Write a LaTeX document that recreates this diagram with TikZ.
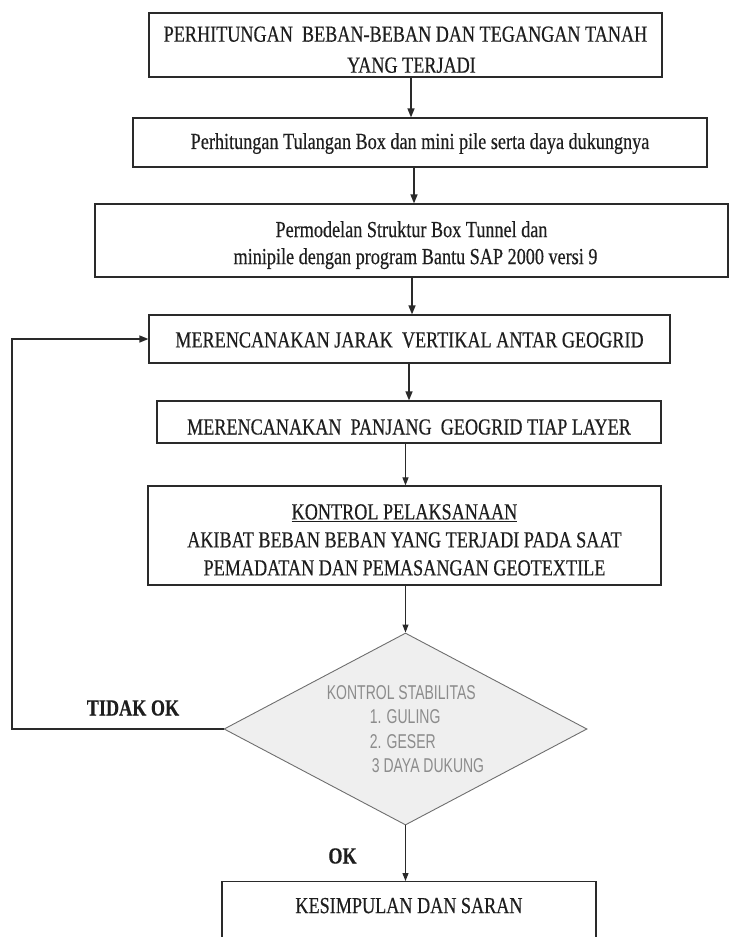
\documentclass[tikz,border=0pt]{standalone}
\usepackage{fontspec}
\setmainfont[FakeStretch=0.79,FakeBold=0.4]{Liberation Serif}
\newfontfamily\narrowsans[FakeStretch=0.70]{Liberation Sans}
\usetikzlibrary{arrows.meta,shapes.geometric}
\definecolor{ink}{HTML}{1E1E1E}
\definecolor{frame}{HTML}{2A2A2A}
\definecolor{greytxt}{HTML}{8C8C8C}
\definecolor{diafill}{HTML}{EFEFEF}
\definecolor{diaedge}{HTML}{6E6E6E}
\newcommand{\txtdown}[2]{\raisebox{-#1}[\height][\depth]{#2}}
\begin{document}
\begin{tikzpicture}[x=1pt,y=-1pt,
  box/.style={draw=frame, line width=1.2pt, rectangle, inner sep=0pt, text=ink,
    align=center, font=\fontsize{23}{27}\selectfont},
  arr/.style={draw=frame, line width=1.4pt, line join=miter, -{Triangle[length=9pt,width=7pt]}},
  thinarr/.style={draw=frame, line width=1.1pt, -{Triangle[length=8pt,width=6pt]}},
  lbl/.style={text=ink, inner sep=0pt, font=\bfseries\fontsize{23}{27}\selectfont}
]
\useasboundingbox (0,0) rectangle (729,937);
\clip (0,0) rectangle (729,937);

% boxes
\node[box, minimum width=513pt, minimum height=64pt, font=\fontsize{23}{31}\selectfont] (b1) at (405.5,45)
  {\txtdown{6pt}{\begin{tabular}{@{}c@{}}PERHITUNGAN\ \ BEBAN-BEBAN DAN TEGANGAN TANAH\\\hspace*{12pt}YANG TERJADI\end{tabular}}};
\node[box, minimum width=574pt, minimum height=49pt] (b2) at (420,142.5)
  {\txtdown{1pt}{Perhitungan Tulangan Box dan mini pile serta daya dukungnya}};
\node[box, minimum width=633pt, minimum height=73pt, font=\fontsize{23}{27}\selectfont] (b3) at (411.5,240.5)
  {\txtdown{4.7pt}{\begin{tabular}{@{}c@{}}Permodelan Struktur Box Tunnel dan\\\hspace*{8pt}minipile dengan program Bantu SAP 2000 versi 9\end{tabular}}};
\node[box, minimum width=521pt, minimum height=48pt] (b4) at (409.5,339)
  {\txtdown{1pt}{MERENCANAKAN JARAK\ \ VERTIKAL ANTAR GEOGRID}};
\node[box, minimum width=504pt, minimum height=42pt] (b5) at (409,422)
  {\txtdown{5pt}{MERENCANAKAN\ \ PANJANG\ \ GEOGRID TIAP LAYER}};
\node[box, minimum width=513pt, minimum height=99pt, font=\fontsize{23}{28}\selectfont] (b6) at (404.5,535.5)
  {\txtdown{6.3pt}{\begin{tabular}{@{}c@{}}\underline{KONTROL PELAKSANAAN}\\AKIBAT BEBAN BEBAN YANG TERJADI PADA SAAT\\PEMADATAN DAN PEMASANGAN GEOTEXTILE\end{tabular}}};

% decision
\node[diamond, shape aspect=1.89, draw=diaedge, fill=diafill, line width=0.9pt, minimum width=363pt, minimum height=192pt,
  inner sep=0pt, text=greytxt, font=\narrowsans\fontsize{20}{24.5}\selectfont] (dia) at (405.5,729)
  {\txtdown{2pt}{\begin{tabular}{@{}l@{}}KONTROL STABILITAS\\\hspace*{43pt}1. GULING\\\hspace*{43pt}2. GESER\\\hspace*{45pt}3 DAYA DUKUNG\end{tabular}}};

% last box (cut by the page bottom)
\node[box, anchor=north, minimum width=374pt, minimum height=120pt] (b7) at (409,881)
  {\raisebox{36pt}[\height][\depth]{KESIMPULAN DAN SARAN}};

% labels
\node[lbl] (tidak) at (133,708) {TIDAK OK};
\node[lbl] (ok) at (342.5,856) {OK};

% connector columns
\coordinate (c1) at (411,0);
\coordinate (c2) at (414,0);
\coordinate (c3) at (412,0);
\coordinate (c4) at (409,0);
\coordinate (c5) at (405.5,0);
\coordinate (fbx) at (12,0);

\draw[arr] (b1.south -| c1) -- (b2.north -| c1);
\draw[arr] (b2.south -| c2) -- (b3.north -| c2);
\draw[arr] (b3.south -| c3) -- (b4.north -| c3);
\draw[arr] (b4.south -| c4) -- (b5.north -| c4);
\draw[thinarr] (b5.south -| c5) -- (b6.north -| c5);
\draw[thinarr] (b6.south -| dia.north) -- (dia.north);
\draw[thinarr] (dia.south) -- (b7.north -| dia.south);
\draw[arr] (dia.west) -- (dia.west -| fbx) -- (b4.west -| fbx) -- (b4.west);
\end{tikzpicture}
\end{document}
